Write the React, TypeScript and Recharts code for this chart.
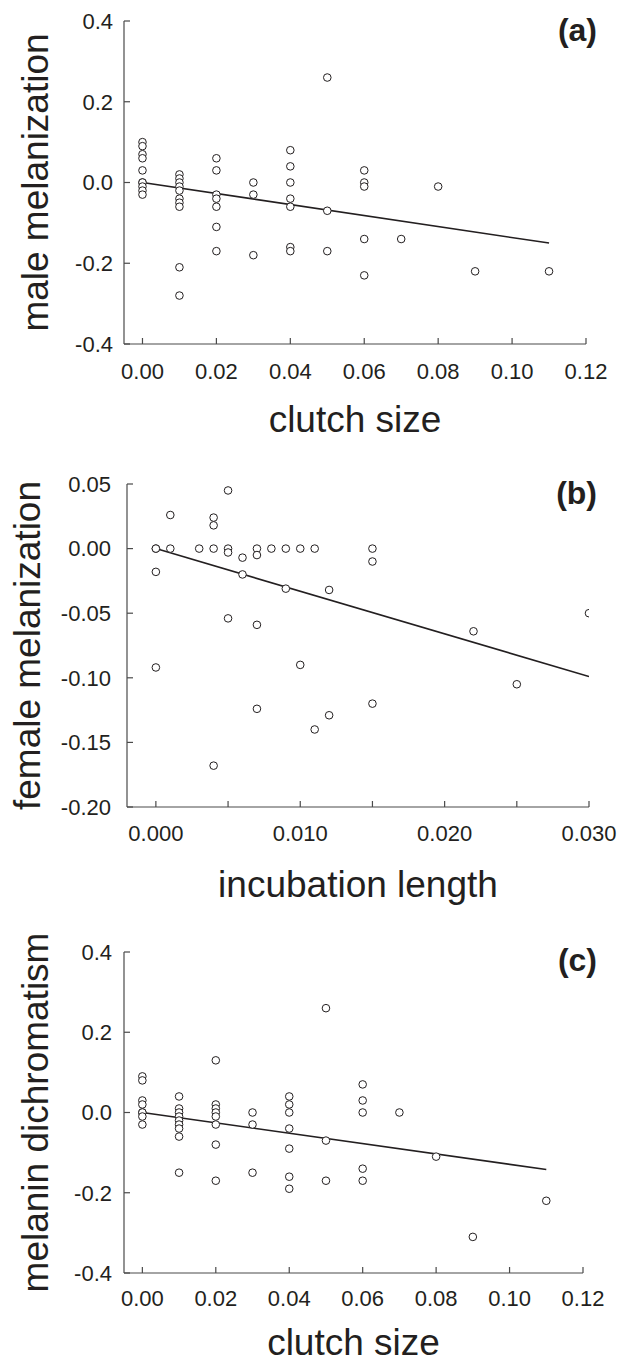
import React from 'react';
import { ScatterChart, Scatter, XAxis, YAxis, Label } from 'recharts';

const FONT = '"Liberation Sans", Arial, Helvetica, sans-serif';
const INK = '#231f20';
const AXIS = '#4a4a4a';

// ---------- Panel (a): male melanization vs clutch size ----------
const clutchA: number[] = [
  0, 0, 0, 0, 0, 0, 0, 0, 0, 0,
  0.01, 0.01, 0.01, 0.01, 0.01, 0.01, 0.01, 0.01, 0.01, 0.01,
  0.02, 0.02, 0.02, 0.02, 0.02, 0.02, 0.02,
  0.03, 0.03, 0.03,
  0.04, 0.04, 0.04, 0.04, 0.04, 0.04, 0.04,
  0.05, 0.05, 0.05,
  0.06, 0.06, 0.06, 0.06, 0.06,
  0.07, 0.08, 0.09, 0.11,
];
const maleMel: number[] = [
  0.10, 0.09, 0.07, 0.06, 0.03, 0.00, 0.00, -0.01, -0.02, -0.03,
  0.02, 0.01, 0.00, -0.01, -0.02, -0.04, -0.05, -0.06, -0.21, -0.28,
  0.06, 0.03, -0.03, -0.04, -0.06, -0.11, -0.17,
  0.00, -0.03, -0.18,
  0.08, 0.04, 0.00, -0.04, -0.06, -0.16, -0.17,
  0.26, -0.07, -0.17,
  0.03, 0.00, -0.01, -0.14, -0.23,
  -0.14, -0.01, -0.22, -0.22,
];
const fitAx: number[] = [0, 0.11];
const fitAy: number[] = [0, -0.15];

// ---------- Panel (b): female melanization vs incubation length ----------
const incubB: number[] = [
  0, 0, 0, 0,
  0.001, 0.001,
  0.003,
  0.004, 0.004, 0.004, 0.004,
  0.005, 0.005, 0.005, 0.005,
  0.006, 0.006,
  0.007, 0.007, 0.007, 0.007,
  0.008,
  0.009, 0.009,
  0.010, 0.010,
  0.011, 0.011,
  0.012, 0.012,
  0.015, 0.015, 0.015,
  0.022, 0.025, 0.030,
];
const femaleMel: number[] = [
  0.000, 0.000, -0.018, -0.092,
  0.000, 0.026,
  0.000,
  0.000, 0.024, 0.018, -0.168,
  0.045, 0.000, -0.003, -0.054,
  -0.007, -0.020,
  0.000, -0.005, -0.059, -0.124,
  0.000,
  0.000, -0.031,
  0.000, -0.090,
  0.000, -0.140,
  -0.032, -0.129,
  0.000, -0.010, -0.120,
  -0.064, -0.105, -0.050,
];
const fitBx: number[] = [0, 0.03];
const fitBy: number[] = [0, -0.099];

// ---------- Panel (c): melanin dichromatism vs clutch size ----------
const clutchC: number[] = [
  0, 0, 0, 0, 0, 0, 0, 0,
  0.01, 0.01, 0.01, 0.01, 0.01, 0.01, 0.01, 0.01, 0.01,
  0.02, 0.02, 0.02, 0.02, 0.02, 0.02, 0.02, 0.02,
  0.03, 0.03, 0.03,
  0.04, 0.04, 0.04, 0.04, 0.04, 0.04, 0.04,
  0.05, 0.05, 0.05,
  0.06, 0.06, 0.06, 0.06, 0.06,
  0.07, 0.08, 0.09, 0.11,
];
const dichrom: number[] = [
  0.09, 0.08, 0.03, 0.02, 0.00, 0.00, -0.01, -0.03,
  0.04, 0.01, 0.00, -0.01, -0.02, -0.03, -0.04, -0.06, -0.15,
  0.13, 0.02, 0.01, 0.00, -0.01, -0.03, -0.08, -0.17,
  0.00, -0.03, -0.15,
  0.04, 0.02, 0.00, -0.04, -0.09, -0.16, -0.19,
  0.26, -0.07, -0.17,
  0.07, 0.03, 0.00, -0.14, -0.17,
  0.00, -0.11, -0.31, -0.22,
];
const fitCx: number[] = [0, 0.11];
const fitCy: number[] = [0, -0.142];

// ---------- ticks ----------
const clutchTicks: number[] = [0, 0.02, 0.04, 0.06, 0.08, 0.1, 0.12];
const melTicks: number[] = [-0.4, -0.2, 0, 0.2, 0.4];
const incubTicks: number[] = [0, 0.005, 0.01, 0.015, 0.02, 0.025, 0.03];
const incubLabels: string[] = ['0.000', '', '0.010', '', '0.020', '', '0.030'];
const femTicks: number[] = [-0.2, -0.15, -0.1, -0.05, 0, 0.05];

const zip = (xs: number[], ys: number[]) => xs.map((x, i) => ({ x, y: ys[i] }));

function Dot(props: any) {
  const { cx, cy } = props;
  if (cx == null || cy == null) return <g />;
  return <circle cx={cx} cy={cy} r={3.8} fill="#ffffff" stroke={INK} strokeWidth={1} />;
}
function NoDot() {
  return <g />;
}

const xTitle = (title: string, dy: number) => (props: any) => {
  const vb = props.viewBox || {};
  return (
    <text x={vb.x + vb.width / 2} y={vb.y + dy} textAnchor="middle" fontSize={37} fontFamily={FONT} fill={INK}>
      {title}
    </text>
  );
};
const yTitle = (title: string, baseX: number) => (props: any) => {
  const vb = props.viewBox || {};
  const cy = vb.y + vb.height / 2;
  return (
    <text x={baseX} y={cy} transform={`rotate(-90 ${baseX} ${cy})`} textAnchor="middle" fontSize={37} fontFamily={FONT} fill={INK}>
      {title}
    </text>
  );
};

type PanelProps = {
  top: number;
  height: number;
  plotTop: number;
  plotLeft: number;
  plotRight: number;
  xAxisHeight: number;
  xDomain: [number, number];
  xTicks: number[];
  xFmt: (v: number, i: number) => string;
  yDomain: [number, number];
  yTicks: number[];
  yFmt: (v: number) => string;
  points: { x: number; y: number }[];
  fit: { x: number; y: number }[];
  xLabel: string;
  yLabel: string;
  xLabelDy: number;
  yLabelX: number;
  xTickMargin: number;
  yTickMargin: number;
};

function Panel(p: PanelProps) {
  const tickStyle = { fill: INK, fontSize: 22, fontFamily: FONT };
  return (
    <div style={{ position: 'absolute', left: 0, top: p.top, width: 619, height: p.height }}>
      <ScatterChart
        width={619}
        height={p.height}
        margin={{ top: p.plotTop, right: 619 - p.plotRight, bottom: 0, left: 0 }}
      >
        <XAxis
          type="number"
          dataKey="x"
          domain={p.xDomain}
          ticks={p.xTicks}
          tickFormatter={p.xFmt}
          interval={0}
          height={p.xAxisHeight}
          tickSize={-6}
          tickMargin={p.xTickMargin}
          tick={tickStyle}
          axisLine={{ stroke: AXIS, strokeWidth: 1.2 }}
          tickLine={{ stroke: AXIS, strokeWidth: 1.2 }}
          allowDataOverflow
        >
          <Label content={xTitle(p.xLabel, p.xLabelDy)} />
        </XAxis>
        <YAxis
          type="number"
          dataKey="y"
          domain={p.yDomain}
          ticks={p.yTicks}
          tickFormatter={p.yFmt}
          interval={0}
          width={p.plotLeft}
          tickSize={-6}
          tickMargin={p.yTickMargin}
          tick={tickStyle}
          axisLine={{ stroke: AXIS, strokeWidth: 1.2 }}
          tickLine={{ stroke: AXIS, strokeWidth: 1.2 }}
          allowDataOverflow
        >
          <Label content={yTitle(p.yLabel, p.yLabelX)} />
        </YAxis>
        <Scatter
          data={p.fit}
          line={{ stroke: INK, strokeWidth: 1.6 }}
          shape={NoDot}
          isAnimationActive={false}
        />
        <Scatter data={p.points} shape={Dot} isAnimationActive={false} />
      </ScatterChart>
    </div>
  );
}

const fmt2 = (v: number) => v.toFixed(2);
const fmt1 = (v: number) => v.toFixed(1);

export default function App() {
  return (
    <div style={{ position: 'absolute', left: 0, top: 0, width: 619, height: 1367, background: '#ffffff' }}>
      <Panel
        top={0}
        height={455}
        plotTop={21}
        plotLeft={124}
        plotRight={586}
        xAxisHeight={111}
        xDomain={[-0.005, 0.12]}
        xTicks={clutchTicks}
        xFmt={fmt2}
        yDomain={[-0.4, 0.4]}
        yTicks={melTicks}
        yFmt={fmt1}
        points={zip(clutchA, maleMel)}
        fit={zip(fitAx, fitAy)}
        xLabel="clutch size"
        yLabel="male melanization"
        xLabelDy={88}
        yLabelX={48}
        xTickMargin={25}
        yTickMargin={17}
      />
      <Panel
        top={455}
        height={460}
        plotTop={29}
        plotLeft={127}
        plotRight={589}
        xAxisHeight={108}
        xDomain={[-0.002, 0.03]}
        xTicks={incubTicks}
        xFmt={(v: number, i: number) => incubLabels[incubTicks.indexOf(v)] ?? ''}
        yDomain={[-0.2, 0.05]}
        yTicks={femTicks}
        yFmt={fmt2}
        points={zip(incubB, femaleMel)}
        fit={zip(fitBx, fitBy)}
        xLabel="incubation length"
        yLabel="female melanization"
        xLabelDy={90}
        yLabelX={40}
        xTickMargin={24}
        yTickMargin={22}
      />
      <Panel
        top={915}
        height={452}
        plotTop={37}
        plotLeft={124}
        plotRight={583}
        xAxisHeight={94}
        xDomain={[-0.005, 0.12]}
        xTicks={clutchTicks}
        xFmt={fmt2}
        yDomain={[-0.4, 0.4]}
        yTicks={melTicks}
        yFmt={fmt1}
        points={zip(clutchC, dichrom)}
        fit={zip(fitCx, fitCy)}
        xLabel="clutch size"
        yLabel="melanin dichromatism"
        xLabelDy={82}
        yLabelX={48}
        xTickMargin={23}
        yTickMargin={18}
      />
      <svg
        width={619}
        height={1367}
        style={{ position: 'absolute', left: 0, top: 0, pointerEvents: 'none' }}
      >
        <text x={597} y={41} textAnchor="end" fontSize={32} fontWeight="bold" fontFamily={FONT} fill={INK}>(a)</text>
        <text x={597} y={504} textAnchor="end" fontSize={32} fontWeight="bold" fontFamily={FONT} fill={INK}>(b)</text>
        <text x={597} y={971} textAnchor="end" fontSize={32} fontWeight="bold" fontFamily={FONT} fill={INK}>(c)</text>
      </svg>
    </div>
  );
}
